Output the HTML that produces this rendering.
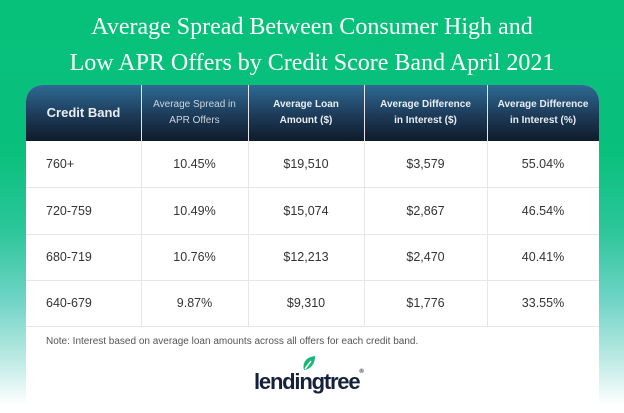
<!DOCTYPE html>
<html><head><meta charset="utf-8"><style>
html,body{margin:0;padding:0}
body{width:624px;height:413px;overflow:hidden;position:relative;font-family:"Liberation Sans",sans-serif;
background:linear-gradient(180deg,#07c17a 0px,#08c07c 150px,#2cc69a 230px,#6fd4c6 300px,#bdeae4 360px,#fff 405px);}
.title{position:absolute;left:0;width:624px;top:9px;text-align:center;color:#fff;font-family:"Liberation Serif",serif;font-size:24px;line-height:36px}
.card{position:absolute;left:26px;top:85px;width:573px;height:322px;background:#fff;border-radius:16px 16px 0 0;overflow:hidden}
.hdr{position:absolute;left:0;top:0;width:573px;height:56px;background:linear-gradient(180deg,#2f6a93,#1d3a58 55%,#0f1b2b)}
.c{position:absolute;text-align:center;display:flex;align-items:center;justify-content:center}
.h{color:#e8eef3;font-size:10px;line-height:16px;font-weight:bold;height:56px;top:0}
.vl{position:absolute;top:0;width:1px;background:#e6e6e6}
.hl{position:absolute;left:0;width:573px;height:1px;background:#e6e6e6}
.d{font-size:12.5px;color:#333;height:46px}
.note{position:absolute;left:20px;top:251px;font-size:10px;color:#555}
.logo{position:absolute;left:228px;top:284px;font-size:22px;font-weight:bold;color:#16213a;letter-spacing:-1.2px}
</style></head><body>
<div class="title">Average Spread Between Consumer High and<br>Low APR Offers by Credit Score Band April 2021</div>
<div class="card">
<div class="hdr"></div>
<div class="vl" style="left:115px;height:242px"></div>
<div class="vl" style="left:222px;height:242px"></div>
<div class="vl" style="left:338px;height:242px"></div>
<div class="vl" style="left:461px;height:242px"></div>
<div class="c h" style="left:0;width:115px;font-size:13px">Credit Band</div>
<div class="c h" style="left:115px;width:107px;font-weight:normal;color:#c9d4de">Average Spread in<br>APR Offers</div>
<div class="c h" style="left:222px;width:116px">Average Loan<br>Amount ($)</div>
<div class="c h" style="left:338px;width:123px">Average Difference<br>in Interest ($)</div>
<div class="c h" style="left:461px;width:112px">Average Difference<br>in Interest (%)</div>
<div class="hl" style="top:102px"></div>
<div class="hl" style="top:149px"></div>
<div class="hl" style="top:195px"></div>
<div class="hl" style="top:241px"></div>

<div class="c d" style="top:56px;left:20px;width:95px;justify-content:flex-start">760+</div>
<div class="c d" style="top:56px;left:115px;width:107px">10.45%</div>
<div class="c d" style="top:56px;left:222px;width:116px">$19,510</div>
<div class="c d" style="top:56px;left:338px;width:123px">$3,579</div>
<div class="c d" style="top:56px;left:461px;width:112px">55.04%</div>

<div class="c d" style="top:103px;left:20px;width:95px;justify-content:flex-start">720-759</div>
<div class="c d" style="top:103px;left:115px;width:107px">10.49%</div>
<div class="c d" style="top:103px;left:222px;width:116px">$15,074</div>
<div class="c d" style="top:103px;left:338px;width:123px">$2,867</div>
<div class="c d" style="top:103px;left:461px;width:112px">46.54%</div>

<div class="c d" style="top:149px;left:20px;width:95px;justify-content:flex-start">680-719</div>
<div class="c d" style="top:149px;left:115px;width:107px">10.76%</div>
<div class="c d" style="top:149px;left:222px;width:116px">$12,213</div>
<div class="c d" style="top:149px;left:338px;width:123px">$2,470</div>
<div class="c d" style="top:149px;left:461px;width:112px">40.41%</div>

<div class="c d" style="top:195px;left:20px;width:95px;justify-content:flex-start">640-679</div>
<div class="c d" style="top:195px;left:115px;width:107px">9.87%</div>
<div class="c d" style="top:195px;left:222px;width:116px">$9,310</div>
<div class="c d" style="top:195px;left:338px;width:123px">$1,776</div>
<div class="c d" style="top:195px;left:461px;width:112px">33.55%</div>

<div class="note">Note: Interest based on average loan amounts across all offers for each credit band.</div>
<svg style="position:absolute;left:276px;top:270px" width="14" height="16" viewBox="0 0 14 16"><path d="M2 15 C0 8 4 2 13 1 C13 9 9 14 2 15Z" fill="#17b877"/><path d="M3 14 L9 6" stroke="#fff" stroke-width="1.5"/></svg>
<div class="logo">lendingtree<span style="font-size:6px;vertical-align:top">®</span></div>
</div>
</body></html>
